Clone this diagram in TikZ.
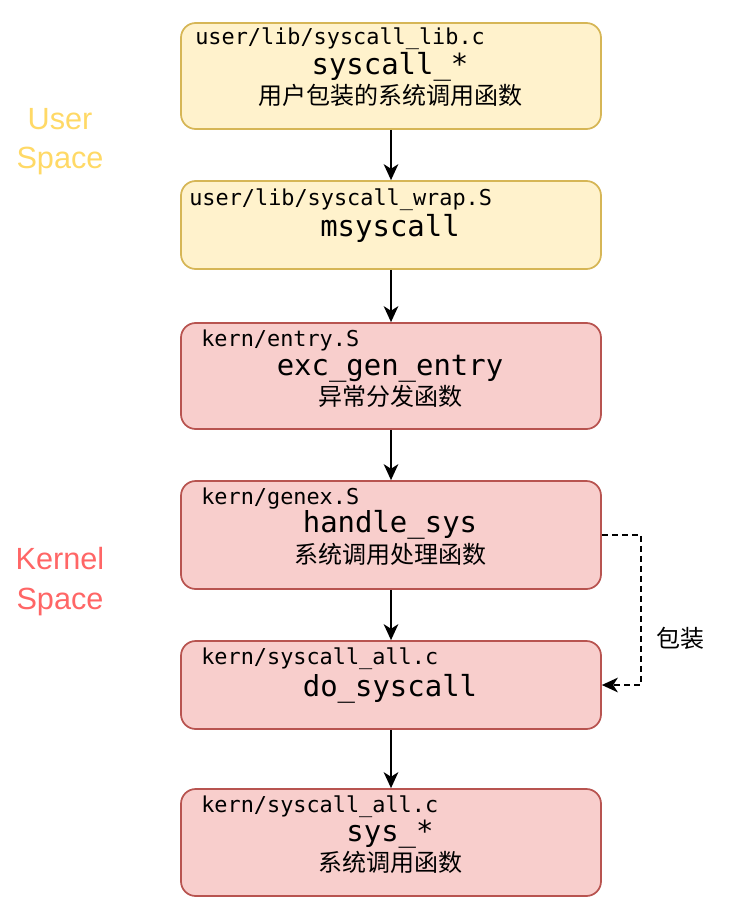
\documentclass[tikz,border=0pt]{standalone}
\usepackage{fontspec}
\setmainfont{Liberation Sans}
\newfontfamily\monof{DejaVu Sans Mono}
\newfontfamily\cjk{Noto Sans CJK SC}
\usetikzlibrary{arrows.meta}
\definecolor{userfill}{HTML}{FFF2CC}
\definecolor{userline}{HTML}{D6B656}
\definecolor{kernfill}{HTML}{F8CECC}
\definecolor{kernline}{HTML}{B85450}
\definecolor{usertext}{HTML}{FFD966}
\definecolor{kerntext}{HTML}{FF6666}
\tikzset{
  box/.style={draw, rounded corners=11pt, minimum width=315pt, inner sep=0pt, line width=1.3pt},
  ubox/.style={box, fill=userfill, draw=userline},
  kbox/.style={box, fill=kernfill, draw=kernline},
  filelbl/.style={anchor=base west, inner sep=0pt, font=\monof\fontsize{16.4}{18}\selectfont},
  titlelbl/.style={anchor=base, inner sep=0pt, font=\monof\fontsize{21.7}{24}\selectfont},
  desclbl/.style={anchor=base, inner sep=0pt, font=\cjk\fontsize{18}{20}\selectfont},
  spacelbl/.style={anchor=base, inner sep=0pt, font=\fontsize{23}{26}\selectfont},
  flow/.style={draw=black, line width=1.4pt, -{Stealth[length=12pt, width=11pt, inset=3.5pt]}},
  wrapflow/.style={flow, dash pattern=on 4.5pt off 3pt}
}
\begin{document}
\begin{tikzpicture}[x=0.75pt, y=-0.75pt]
\useasboundingbox (0,0) rectangle (740,916);

% boxes
\node[ubox, minimum height=79.5pt] (b1) at (391,76) {};
\node[ubox, minimum height=66pt] (b2) at (391,225) {};
\node[kbox, minimum height=79.5pt] (b3) at (391,376) {};
\node[kbox, minimum height=81pt] (b4) at (391,535) {};
\node[kbox, minimum height=66pt] (b5) at (391,685) {};
\node[kbox, minimum height=80.25pt] (b6) at (391,842.5) {};

% box texts
\node[filelbl] (f1) at (195,45) {user/lib/syscall\_lib.c};
\node[titlelbl] (t1) at (390,74.5) {syscall\_*};
\node[desclbl] (d1) at (390,105) {用户包装的系统调用函数};

\node[filelbl] (f2) at (189,206) {user/lib/syscall\_wrap.S};
\node[titlelbl] (t2) at (390,236) {msyscall};

\node[filelbl] (f3) at (201,346) {kern/entry.S};
\node[titlelbl] (t3) at (390,375.5) {exc\_gen\_entry};
\node[desclbl] (d3) at (390,405) {异常分发函数};

\node[filelbl] (f4) at (201,504) {kern/genex.S};
\node[titlelbl] (t4) at (390,532.5) {handle\_sys};
\node[desclbl] (d4) at (390,563) {系统调用处理函数};

\node[filelbl] (f5) at (201,664) {kern/syscall\_all.c};
\node[titlelbl] (t5) at (390,696) {do\_syscall};

\node[filelbl] (f6) at (201,812) {kern/syscall\_all.c};
\node[titlelbl] (t6) at (390,841.5) {sys\_*};
\node[desclbl] (d6) at (390,871) {系统调用函数};

% side labels
\node[spacelbl, text=usertext] (u1) at (60,130) {User};
\node[spacelbl, text=usertext] (u2) at (60,169) {Space};
\node[spacelbl, text=kerntext] (k1) at (60,569) {Kernel};
\node[spacelbl, text=kerntext] (k2) at (60,609) {Space};

% connectors
\draw[flow] (b1) -- (b2);
\draw[flow] (b2) -- (b3);
\draw[flow] (b3) -- (b4);
\draw[flow] (b4) -- (b5);
\draw[flow] (b5) -- (b6);

\coordinate (bend) at (641,535);
\draw[wrapflow] (b4.east) -- (bend) |- (b5.east);
\node[inner sep=0pt, font=\cjk\fontsize{18}{20}\selectfont] (wl) at (680,638) {包装};
\end{tikzpicture}
\end{document}
